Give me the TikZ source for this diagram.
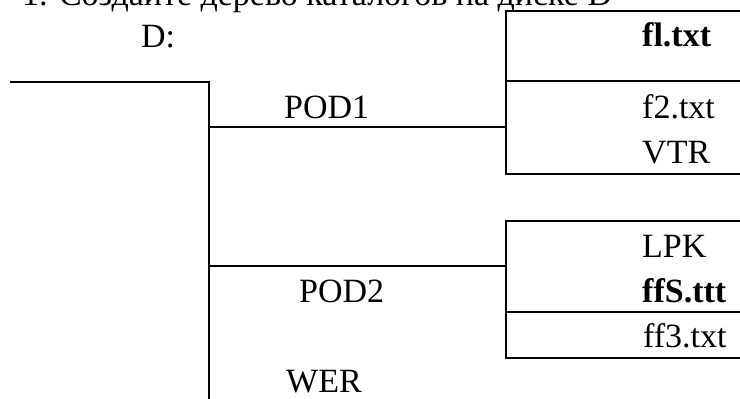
\documentclass[tikz,border=0pt]{standalone}
\usepackage{fontspec}
\setmainfont{Liberation Serif}
\begin{document}
\begin{tikzpicture}[x=1pt,y=-1pt,
  lbl/.style={anchor=base west,inner sep=0pt,font=\fontsize{34}{40}\selectfont},
  lblb/.style={lbl,font=\fontsize{34}{40}\selectfont\bfseries},
  ln/.style={line width=2pt}]
\useasboundingbox (0,0) rectangle (740,399);
% title (clipped at top)
\node[lbl] (title) at (22,5) {1. Создайте дерево каталогов на диске D};
% left tree
\node[lbl] (d) at (141,47) {D:};
\node[lbl] (pod1) at (284,118) {POD1};
\node[lbl] (pod2) at (299,302) {POD2};
\node[lbl] (wer) at (286,392) {WER};
\coordinate (rootL) at (10,82);
\coordinate (rootC) at (209,82);
\coordinate (trunkEnd) at (209,400);
\coordinate (b1) at (209,127);
\coordinate (b2) at (209,266);
\coordinate (box1L) at (506,127);
\coordinate (box2L) at (506,266);
\draw[ln] (rootL) -- (rootC) -- (trunkEnd);
\draw[ln] (b1) -- (box1L);
\draw[ln] (b2) -- (box2L);
% box 1
\draw[ln] (741,11) -- (506,11) -- (506,174) -- (741,174);
\draw[ln] (506,81) -- (741,81);
\node[lblb] (f1) at (642,46) {fl.txt};
\node[lbl] (f2) at (642,118) {f2.txt};
\node[lbl] (vtr) at (642,163) {VTR};
% box 2
\draw[ln] (741,221) -- (506,221) -- (506,358) -- (741,358);
\draw[ln] (506,312) -- (741,312);
\node[lbl] (lpk) at (642,257) {LPK};
\node[lblb] (ffs) at (642,302) {ffS.ttt};
\node[lbl] (ff3) at (643,347) {ff3.txt};
\end{tikzpicture}
\end{document}
